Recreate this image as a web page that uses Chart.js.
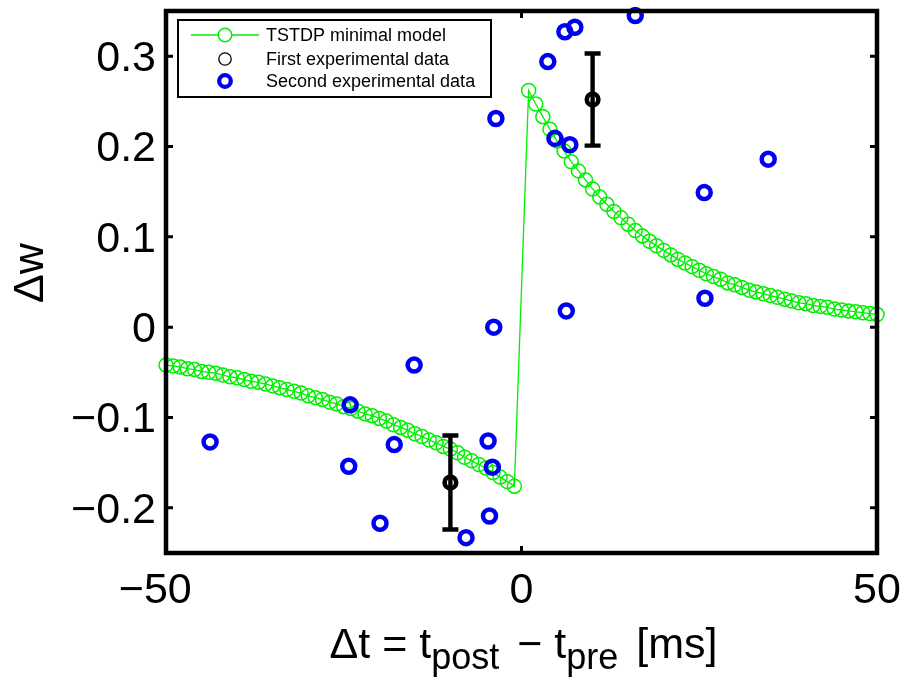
<!DOCTYPE html>
<html>
<head>
<meta charset="utf-8">
<script src="https://cdn.jsdelivr.net/npm/chart.js@4.4.1/dist/chart.umd.min.js"></script>
<style>
  html, body { margin: 0; padding: 0; background: #fff; }
</style>
</head>
<body>
<canvas id="stdpChart" width="902" height="680"></canvas>
<script>
// TSTDP minimal model curve (dt in ms, weight change)
const modelT = [
  -50, -49, -48, -47, -46, -45, -44, -43, -42, -41,
  -40, -39, -38, -37, -36, -35, -34, -33, -32, -31,
  -30, -29, -28, -27, -26, -25, -24, -23, -22, -21,
  -20, -19, -18, -17, -16, -15, -14, -13, -12, -11,
  -10, -9, -8, -7, -6, -5, -4, -3, -2, -1,
  1, 2, 3, 4, 5, 6, 7, 8, 9, 10,
  11, 12, 13, 14, 15, 16, 17, 18, 19, 20,
  21, 22, 23, 24, 25, 26, 27, 28, 29, 30,
  31, 32, 33, 34, 35, 36, 37, 38, 39, 40,
  41, 42, 43, 44, 45, 46, 47, 48, 49, 50
];
const modelW = [
  -0.042, -0.043, -0.044, -0.046, -0.047, -0.049, -0.050, -0.051, -0.053, -0.055,
  -0.056, -0.058, -0.060, -0.061, -0.063, -0.065, -0.067, -0.069, -0.071, -0.073,
  -0.076, -0.078, -0.080, -0.083, -0.085, -0.088, -0.090, -0.093, -0.096, -0.098,
  -0.101, -0.104, -0.108, -0.111, -0.114, -0.118, -0.121, -0.125, -0.128, -0.132,
  -0.135, -0.139, -0.144, -0.148, -0.152, -0.156, -0.161, -0.166, -0.171, -0.176,
  0.262, 0.247, 0.233, 0.219, 0.206, 0.195, 0.183, 0.173, 0.163, 0.153,
  0.144, 0.136, 0.128, 0.121, 0.114, 0.107, 0.101, 0.095, 0.090, 0.085,
  0.080, 0.075, 0.071, 0.067, 0.063, 0.059, 0.056, 0.053, 0.049, 0.047,
  0.044, 0.041, 0.039, 0.037, 0.035, 0.033, 0.031, 0.029, 0.027, 0.026,
  0.024, 0.023, 0.022, 0.020, 0.019, 0.018, 0.017, 0.016, 0.015, 0.014
];

// first experimental data, mean +/- error
const firstT = [-10, 10];
const firstW = [-0.172, 0.252];
const firstErr = [0.052, 0.051];

// second experimental data
const secondT = [-43.8, -24.1, -24.3, -19.9, -17.9, -15.1, -7.8, -4.7, -4.1, -4.5, -3.9,
                 -3.6, 3.7, 4.7, 6.8, 6.1, 7.5, 6.3, 16.0, 25.7, 34.7, 25.8];
const secondW = [-0.127, -0.086, -0.154, -0.217, -0.130, -0.042, -0.233, -0.126, -0.155, -0.209, 0.0,
                 0.231, 0.294, 0.209, 0.202, 0.327, 0.332, 0.018, 0.345, 0.149, 0.186, 0.032];

const xTicks = [-50, 0, 50];
const yTicks = [-0.2, -0.1, 0, 0.1, 0.2, 0.3];

const seriesLabels = ["TSTDP minimal model", "First experimental data", "Second experimental data"];

const FONT = "'Liberation Sans', Arial, Helvetica, sans-serif";
const GREEN = "#00ee00";
const BLUE = "#0000f0";

function toPoints(xs, ys) {
  return xs.map((v, i) => ({ x: v, y: ys[i] }));
}

function formatTick(v) {
  const s = Math.abs(v) < 1e-9 ? "0" : String(Math.round(v * 10) / 10);
  return s.replace("-", "\u2212");
}

// box, inward ticks, error bars, legend and axis titles
const axesFramePlugin = {
  id: "axesFrame",
  afterDatasetsDraw(chart) {
    const { ctx, chartArea: a, scales: { x, y } } = chart;
    ctx.save();

    // error bars
    ctx.strokeStyle = "#000";
    ctx.lineWidth = 4.4;
    firstT.forEach((t, i) => {
      const px = x.getPixelForValue(t);
      const top = y.getPixelForValue(firstW[i] + firstErr[i]);
      const bot = y.getPixelForValue(firstW[i] - firstErr[i]);
      ctx.beginPath();
      ctx.moveTo(px, top); ctx.lineTo(px, bot);
      ctx.moveTo(px - 8, top); ctx.lineTo(px + 8, top);
      ctx.moveTo(px - 8, bot); ctx.lineTo(px + 8, bot);
      ctx.stroke();
    });

    // inward tick marks
    ctx.lineWidth = 3;
    const tl = 7;
    ctx.beginPath();
    xTicks.forEach(v => {
      const px = x.getPixelForValue(v);
      ctx.moveTo(px, a.bottom); ctx.lineTo(px, a.bottom - tl);
      ctx.moveTo(px, a.top); ctx.lineTo(px, a.top + tl);
    });
    yTicks.forEach(v => {
      const py = y.getPixelForValue(v);
      ctx.moveTo(a.left, py); ctx.lineTo(a.left + tl, py);
      ctx.moveTo(a.right, py); ctx.lineTo(a.right - tl, py);
    });
    ctx.stroke();

    // axes box
    ctx.lineWidth = 4.5;
    ctx.strokeRect(a.left, a.top, a.right - a.left, a.bottom - a.top);

    // legend
    const lx = 178, ly = 20, lw = 313, lh = 77;
    ctx.fillStyle = "#fff";
    ctx.fillRect(lx, ly, lw, lh);
    ctx.lineWidth = 2;
    ctx.strokeStyle = "#000";
    ctx.strokeRect(lx, ly, lw, lh);
    const rows = [35, 59, 81];
    const mx = 225;
    ctx.strokeStyle = GREEN;
    ctx.lineWidth = 1.5;
    ctx.beginPath();
    ctx.moveTo(191, rows[0]); ctx.lineTo(259, rows[0]);
    ctx.stroke();
    ctx.fillStyle = "#fff";
    ctx.beginPath(); ctx.arc(mx, rows[0], 6.8, 0, Math.PI * 2); ctx.fill(); ctx.stroke();
    ctx.strokeStyle = "#000";
    ctx.lineWidth = 1.3;
    ctx.beginPath(); ctx.arc(mx, rows[1], 6.2, 0, Math.PI * 2); ctx.stroke();
    ctx.strokeStyle = BLUE;
    ctx.lineWidth = 4.3;
    ctx.beginPath(); ctx.arc(mx, rows[2], 5.8, 0, Math.PI * 2); ctx.stroke();
    ctx.fillStyle = "#000";
    ctx.font = "18px " + FONT;
    ctx.textAlign = "left";
    ctx.textBaseline = "middle";
    seriesLabels.forEach((txt, i) => ctx.fillText(txt, 266, rows[i] + 1));

    // y axis title
    ctx.save();
    ctx.translate(43, (a.top + a.bottom) / 2 - 9);
    ctx.rotate(-Math.PI / 2);
    ctx.font = "43px " + FONT;
    ctx.textAlign = "center";
    ctx.textBaseline = "alphabetic";
    ctx.fillText("\u0394w", 0, 0);
    ctx.restore();

    // x axis title with subscripts
    const parts = [
      { t: "\u0394t = t", sub: false, gap: 0 },
      { t: "post", sub: true, gap: 6 },
      { t: " \u2212 t", sub: false, gap: 0 },
      { t: "pre", sub: true, gap: 6 },
      { t: " [ms]", sub: false, gap: 0 }
    ];
    const mainFont = "43px " + FONT;
    const subFont = "36px " + FONT;
    let total = 0;
    parts.forEach(p => {
      ctx.font = p.sub ? subFont : mainFont;
      p.w = ctx.measureText(p.t).width;
      total += p.w + p.gap;
    });
    let cx = (a.left + a.right) / 2 - total / 2 + 2;
    ctx.textAlign = "left";
    ctx.textBaseline = "alphabetic";
    parts.forEach(p => {
      ctx.font = p.sub ? subFont : mainFont;
      ctx.fillText(p.t, cx, p.sub ? 669 : 658);
      cx += p.w + p.gap;
    });

    ctx.restore();
  }
};

new Chart(document.getElementById("stdpChart"), {
  type: "scatter",
  data: {
    datasets: [
      {
        label: seriesLabels[0],
        data: toPoints(modelT, modelW),
        showLine: true,
        borderColor: GREEN,
        borderWidth: 1.3,
        pointRadius: 7,
        pointBorderWidth: 1.5,
        pointBorderColor: GREEN,
        pointBackgroundColor: "rgba(0,0,0,0)",
        clip: false,
        order: 3
      },
      {
        label: seriesLabels[1],
        data: toPoints(firstT, firstW),
        pointRadius: 5.8,
        pointBorderWidth: 4.6,
        pointBorderColor: "#000",
        pointBackgroundColor: "rgba(0,0,0,0)",
        clip: false,
        order: 1
      },
      {
        label: seriesLabels[2],
        data: toPoints(secondT, secondW),
        pointRadius: 6.5,
        pointBorderWidth: 4.5,
        pointBorderColor: BLUE,
        pointBackgroundColor: "rgba(0,0,0,0)",
        clip: false,
        order: 2
      }
    ]
  },
  options: {
    responsive: false,
    animation: false,
    layout: { padding: { top: 10, right: 25, left: 0, bottom: 0 } },
    plugins: {
      legend: { display: false },
      tooltip: { enabled: false }
    },
    scales: {
      x: {
        type: "linear",
        min: -50,
        max: 50,
        afterBuildTicks: s => { s.ticks = xTicks.map(v => ({ value: v })); },
        afterFit: s => { s.height = 127; s.paddingLeft = 0; s.paddingRight = 0; },
        grid: { display: false, drawTicks: false },
        border: { display: false },
        ticks: {
          color: "#000",
          padding: 12,
          maxRotation: 0,
          font: { family: FONT, size: 43 },
          // negative labels sit a little left of their tick
          callback: v => formatTick(v) + (v < 0 ? "\u2002" : "")
        }
      },
      y: {
        type: "linear",
        min: -0.25,
        max: 0.35,
        afterBuildTicks: s => { s.ticks = yTicks.map(v => ({ value: v })); },
        afterFit: s => { s.width = 166; s.paddingTop = 0; s.paddingBottom = 0; },
        grid: { display: false, drawTicks: false },
        border: { display: false },
        ticks: {
          color: "#000",
          padding: 10,
          labelOffset: 3,
          font: { family: FONT, size: 43 },
          callback: v => formatTick(v)
        }
      }
    }
  },
  plugins: [axesFramePlugin]
});
</script>
</body>
</html>
